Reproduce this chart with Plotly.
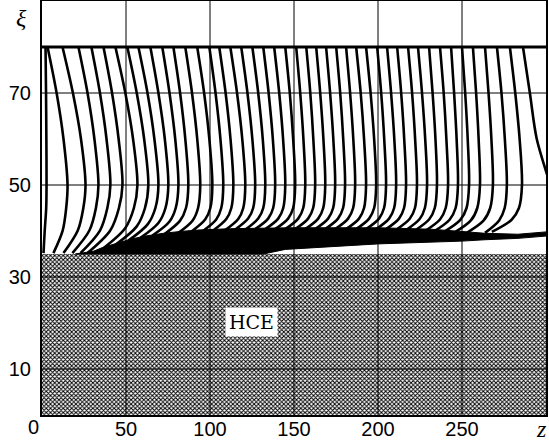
import plotly.graph_objects as go

# ---------------- axes / labels ----------------
X_RANGE = [0, 300]
Y_RANGE = [0, 90]
X_TICKS = [50, 100, 150, 200, 250]
X_TICK_TEXT = ["50", "100", "150", "200", "250"]
Y_TICKS = [10, 30, 50, 70]
Y_TICK_TEXT = ["10", "30", "50", "70"]
X_GRID = [50, 100, 150, 200, 250]
Y_GRID = [10, 30, 50, 70]
X_NAME = "z"
Y_NAME = "ξ"
ORIGIN_TEXT = "0"

# ---------------- regions ----------------
WALL_XI = 80          # upper boundary of the flow
HCE_TOP = 35          # top of the hatched HCE region
HCE_LABEL = "HCE"

# ---------------- streamlines (z at given ξ levels) ----------------
Z_AT_80 = [2.1, 3.3, 12.2, 21.7, 29.4, 36.6, 43.7, 50.8, 57.4, 64.5, 71.6, 78.2, 85.3, 92.4, 99.6,
           105.5, 112.1, 118.6, 125.2, 131.7, 138.2, 144.8, 151.3, 157.3, 163.2, 169.1, 175.1, 181.0,
           187.0, 192.9, 199.5, 205.4, 211.4, 217.9, 223.8, 230.4, 236.9, 243.5, 250.0, 256.5, 263.7,
           270.8, 278.5, 286.3]
Z_AT_70 = [2.4, 8.7, 18.4, 27.1, 34.5, 41.7, 49.6, 56.4, 62.8, 69.3, 75.9, 82.2, 89.3, 96.5, 103.3,
           109.3, 116.1, 122.3, 128.7, 134.9, 141.2, 147.5, 153.7, 159.7, 165.6, 171.5, 177.5, 183.4,
           189.7, 195.6, 201.9, 207.8, 213.8, 220.3, 226.2, 232.5, 239.1, 245.3, 251.9, 258.4, 265.8,
           273.5, 281.7, 290.4]
Z_AT_60 = [2.6, 12.8, 23.2, 31.2, 38.4, 45.6, 54.2, 60.8, 66.9, 73.1, 79.3, 85.3, 92.4, 99.6, 106.2,
           112.2, 119.2, 125.2, 131.4, 137.4, 143.5, 149.5, 155.6, 161.5, 167.5, 173.4, 179.3, 185.3,
           191.7, 197.7, 203.7, 209.7, 215.6, 222.1, 228.1, 234.2, 240.7, 246.8, 253.4, 259.9, 267.5,
           275.5, 284.3, 294.5]
Z_AT_50 = [2.7, 15.2, 25.9, 33.6, 40.7, 47.9, 56.8, 63.3, 69.3, 75.2, 81.2, 87.1, 94.2, 101.4, 107.9,
           113.9, 121.0, 126.9, 132.9, 138.8, 144.8, 150.7, 156.7, 162.6, 168.6, 174.5, 180.4, 186.4,
           192.9, 198.9, 204.8, 210.8, 216.7, 223.2, 229.2, 235.1, 241.7, 247.6, 254.2, 260.7, 268.4,
           276.7, 285.7, 302.5]
Z_AT_45 = [2.5, 14.4, 24.6, 32.1, 38.9, 45.8, 54.7, 61.3, 67.5, 73.5, 79.6, 85.7, 92.9, 100.2, 106.7,
           112.7, 119.8, 125.7, 131.7, 137.6, 143.6, 149.5, 155.5, 161.4, 167.4, 173.3, 179.2, 185.2,
           191.7, 197.7, 203.6, 209.6, 215.5, 222.0, 227.9, 233.8, 240.3, 246.2, 252.7, 259.1, 266.8,
           275.4, 283.9, 306.0]
BEND_Z = [1.6, 12.3, 21.3, 28.2, 34.5, 40.6, 49.5, 56.4, 63.0, 69.4, 75.8, 82.1, 89.7, 97.1, 103.7,
          109.7, 116.8, 122.7, 128.7, 134.6, 140.6, 146.5, 152.5, 158.4, 164.4, 170.3, 176.2, 182.2,
          188.7, 194.7, 200.6, 206.6, 212.5, 218.9, 224.8, 230.5, 236.9, 242.6, 249.0, 255.3, 262.8,
          272.1, 279.4, 308.0]
BEND_XI = [40.0, 40.1, 40.1, 40.1, 40.1, 40.1, 40.6, 41.0, 41.5, 41.8, 42.0, 42.2, 42.3, 42.5, 42.5,
           42.6, 42.6, 42.7, 42.7, 42.7, 42.7, 42.7, 42.7, 42.7, 42.7, 42.7, 42.7, 42.7, 42.7, 42.7,
           42.7, 42.7, 42.7, 42.65, 42.6, 42.55, 42.5, 42.45, 42.4, 42.3, 42.25, 42.3, 42.4, 42.0]
END_Z = [0.9, 6.8, 12.8, 18.1, 22.9, 27.1, 36.0, 43.7, 51.4, 58.6, 65.7, 72.8, 81.2, 89.0, 95.8,
         101.9, 109.1, 115.0, 121.0, 126.9, 132.9, 138.8, 144.8, 150.7, 156.7, 162.6, 168.5, 174.5,
         181.0, 187.0, 192.9, 198.9, 204.8, 211.0, 216.7, 222.0, 228.0, 233.3, 239.3, 245.2, 252.4,
         263.7, 267.8, 309.0]
END_XI = [35.2, 35.2, 35.2, 35.2, 35.2, 35.2, 36.1, 37.0, 37.9, 38.5, 39.0, 39.3, 39.6, 39.9, 40.0,
          40.1, 40.2, 40.3, 40.3, 40.4, 40.4, 40.4, 40.4, 40.4, 40.4, 40.4, 40.4, 40.4, 40.4, 40.4,
          40.4, 40.4, 40.4, 40.3, 40.2, 40.1, 40.0, 39.9, 39.8, 39.6, 39.5, 39.6, 39.8, 40.0]
LEVELS = [80, 70, 60, 50, 45]

# ---------------- merged dense band of streamlines ----------------
BAND_TOP_Z = [19.9, 30.6, 36.0, 43.7, 52.6, 61.5, 72.2, 82.3, 92.4, 112.1, 147.7, 200.1, 231.0,
              250.0, 263.7, 283.3, 300.0]
BAND_TOP_XI = [35.0, 35.6, 36.4, 37.3, 38.2, 38.9, 39.5, 39.9, 40.2, 40.5, 40.7, 40.7, 40.4,
               39.9, 39.5, 39.3, 39.8]
BAND_BOT_Z = [300.0, 283.3, 263.7, 250.0, 200.1, 144.8, 131.8, 19.9]
BAND_BOT_XI = [38.9, 38.4, 38.1, 37.8, 37.2, 36.0, 35.0, 35.0]

fig = go.Figure()

# hatched HCE region
fig.add_trace(go.Scatter(
    x=[X_RANGE[0], X_RANGE[1], X_RANGE[1], X_RANGE[0], X_RANGE[0]],
    y=[Y_RANGE[0], Y_RANGE[0], HCE_TOP, HCE_TOP, Y_RANGE[0]],
    mode="lines", fill="toself", line=dict(width=0, color="black"),
    fillcolor="white",
    fillpattern=dict(shape="x", size=3, solidity=0.55, fgcolor="black", bgcolor="white"),
    hoverinfo="skip", showlegend=False))

# streamlines
xs, ys = [], []
for i in range(len(Z_AT_80)):
    zs = [Z_AT_80[i], Z_AT_70[i], Z_AT_60[i], Z_AT_50[i], Z_AT_45[i], BEND_Z[i], END_Z[i]]
    xis = LEVELS + [BEND_XI[i], END_XI[i]]
    xs += zs + [None]
    ys += xis + [None]
fig.add_trace(go.Scatter(x=xs, y=ys, mode="lines",
                         line=dict(color="black", width=2.6, shape="spline", smoothing=0.9),
                         hoverinfo="skip", showlegend=False))

# dense band
fig.add_trace(go.Scatter(x=BAND_TOP_Z + BAND_BOT_Z, y=BAND_TOP_XI + BAND_BOT_XI,
                         mode="lines", fill="toself", fillcolor="black",
                         line=dict(color="black", width=1),
                         hoverinfo="skip", showlegend=False))

# upper wall
fig.add_trace(go.Scatter(x=X_RANGE, y=[WALL_XI, WALL_XI], mode="lines",
                         line=dict(color="black", width=3), hoverinfo="skip", showlegend=False))

shapes = []
for gx in X_GRID:
    shapes.append(dict(type="line", xref="x", yref="y", x0=gx, x1=gx, y0=Y_RANGE[0], y1=Y_RANGE[1],
                       line=dict(color="black", width=1), layer="above"))
for gy in Y_GRID:
    shapes.append(dict(type="line", xref="x", yref="y", x0=X_RANGE[0], x1=X_RANGE[1], y0=gy, y1=gy,
                       line=dict(color="black", width=1), layer="above"))

tick_font = dict(family="Liberation Sans, Arial, sans-serif", size=20, color="black")
serif = "Liberation Serif, Times New Roman, serif"

annotations = [
    dict(x=X_RANGE[0], y=Y_RANGE[0], xref="x", yref="y", text=ORIGIN_TEXT, showarrow=False,
         xanchor="center", yanchor="top", xshift=-9, yshift=1, font=tick_font),
    dict(x=X_RANGE[1], y=Y_RANGE[0], xref="x", yref="y", text="<i>%s</i>" % X_NAME, showarrow=False,
         xanchor="center", yanchor="top", xshift=-5, yshift=1,
         font=dict(family=serif, size=24, color="black")),
    dict(x=X_RANGE[0], y=Y_RANGE[1], xref="x", yref="y", text="<i>%s</i>" % Y_NAME, showarrow=False,
         xanchor="center", yanchor="top", xshift=-21, yshift=-2,
         font=dict(family=serif, size=24, color="black")),
    dict(x=124.8, y=20.3, xref="x", yref="y", text=HCE_LABEL, showarrow=False,
         bgcolor="white", borderpad=3,
         font=dict(family="DejaVu Serif, serif", size=19, color="black")),
]

fig.update_layout(
    width=549, height=442, template="none",
    margin=dict(l=42, r=3, t=1, b=27),
    paper_bgcolor="white", plot_bgcolor="white",
    showlegend=False, shapes=shapes, annotations=annotations,
    xaxis=dict(range=X_RANGE, tickvals=X_TICKS, ticktext=X_TICK_TEXT, ticks="",
               showgrid=False, zeroline=False, showline=True, linecolor="black", linewidth=2,
               mirror=True, tickfont=tick_font, automargin=False, fixedrange=True,
               ticklabelstandoff=-5),
    yaxis=dict(range=Y_RANGE, tickvals=Y_TICKS, ticktext=Y_TICK_TEXT, ticks="",
               showgrid=False, zeroline=False, showline=True, linecolor="black", linewidth=2,
               mirror=True, tickfont=tick_font, automargin=False, fixedrange=True,
               ticklabelstandoff=5),
)

fig.write_html("out.html", config={"displayModeBar": False},
               post_script="document.body.style.margin='0px';document.body.style.overflow='hidden';")
